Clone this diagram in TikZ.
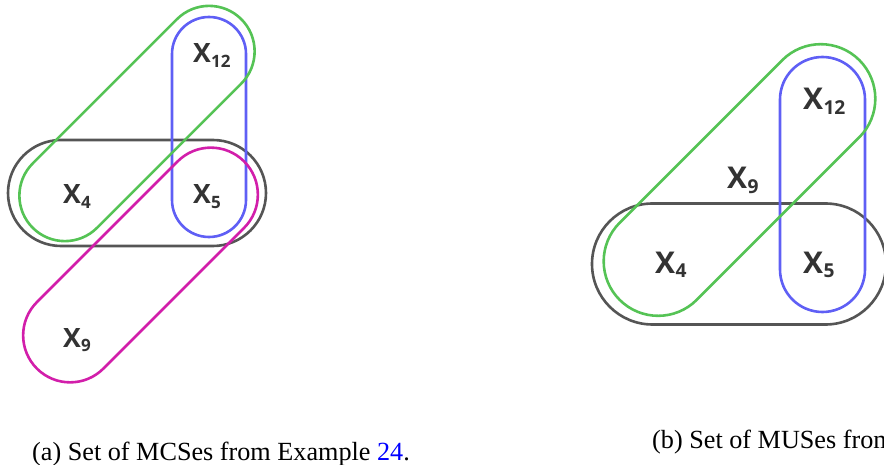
\documentclass[tikz,border=0pt]{standalone}
\usepackage{fontspec,graphicx}
\setmainfont{Liberation Serif}
\newfontfamily\lblfont{Open Sans}
\definecolor{SetGray}   {RGB}{85,85,85}
\definecolor{SetGreen}  {RGB}{85,195,85}
\definecolor{SetBlue}   {RGB}{95,95,245}
\definecolor{SetMagenta}{RGB}{210,30,170}
\definecolor{RefBlue}   {RGB}{0,0,255}
\definecolor{LblGray}   {RGB}{51,51,51}
\newcommand\xsub[1]{X\kern0.3pt\raisebox{-0.16em}{\scalebox{0.64}{#1}}}

\begin{document}
\begin{tikzpicture}[x=1pt,y=-1pt,
  set/.style={draw=#1,line width=2.6pt,rectangle,inner sep=0pt},
  lbl/.style={anchor=base west,inner sep=0pt,text=LblGray,
              font=\lblfont\bfseries\fontsize{#1}{#1}\selectfont},
  captxt/.style={anchor=base west,inner sep=0pt,
              font=\fontsize{26.2}{30}\selectfont}]
  \useasboundingbox (0,0) rectangle (884,465);
  \clip (0,0) rectangle (884,465);

  % (a) MCSes
  \node[set=SetGray,minimum width=258,minimum height=106,
        rounded corners=53] (Ka) at (137,193) {};
  \node[set=SetBlue,minimum width=220,minimum height=74,
        rounded corners=37,rotate=90] (Ba) at (209,127) {};
  \node[set=SetGreen,minimum width=295,minimum height=91,
        rounded corners=45.5,rotate=45] (Ga) at (137,123.5) {};
  \node[set=SetMagenta,minimum width=293,minimum height=94,
        rounded corners=47,rotate=45] (Ma) at (140.5,265) {};
  \node[lbl=26.6] (a12) at (193,63) {\xsub{12}};
  \node[lbl=26.6] (a4)  at (63,204) {\xsub{4}};
  \node[lbl=26.6] (a5)  at (193,204) {\xsub{5}};
  \node[lbl=26.6] (a9)  at (63,347) {\xsub{9}};

  % (b) MUSes
  \node[set=SetGray,minimum width=294,minimum height=121,
        rounded corners=60.5] (Kb) at (739,264) {};
  \node[set=SetBlue,minimum width=255,minimum height=85,
        rounded corners=42.5,rotate=90] (Bb) at (822.5,184.5) {};
  \node[set=SetGreen,minimum width=339,minimum height=109,
        rounded corners=54.5,rotate=45] (Gb) at (739.5,180) {};
  \node[lbl=30] (b12) at (803,110) {\xsub{12}};
  \node[lbl=30] (b9)  at (727,189) {\xsub{9}};
  \node[lbl=30] (b4)  at (655,273) {\xsub{4}};
  \node[lbl=30] (b5)  at (803,273) {\xsub{5}};

  % captions
  \node[captxt] (capA) at (32,460)
        {(a) Set of MCSes from Example \textcolor{RefBlue}{24}.};
  \node[captxt] (capB) at (652,448) {(b) Set of MUSes from};
\end{tikzpicture}
\end{document}
